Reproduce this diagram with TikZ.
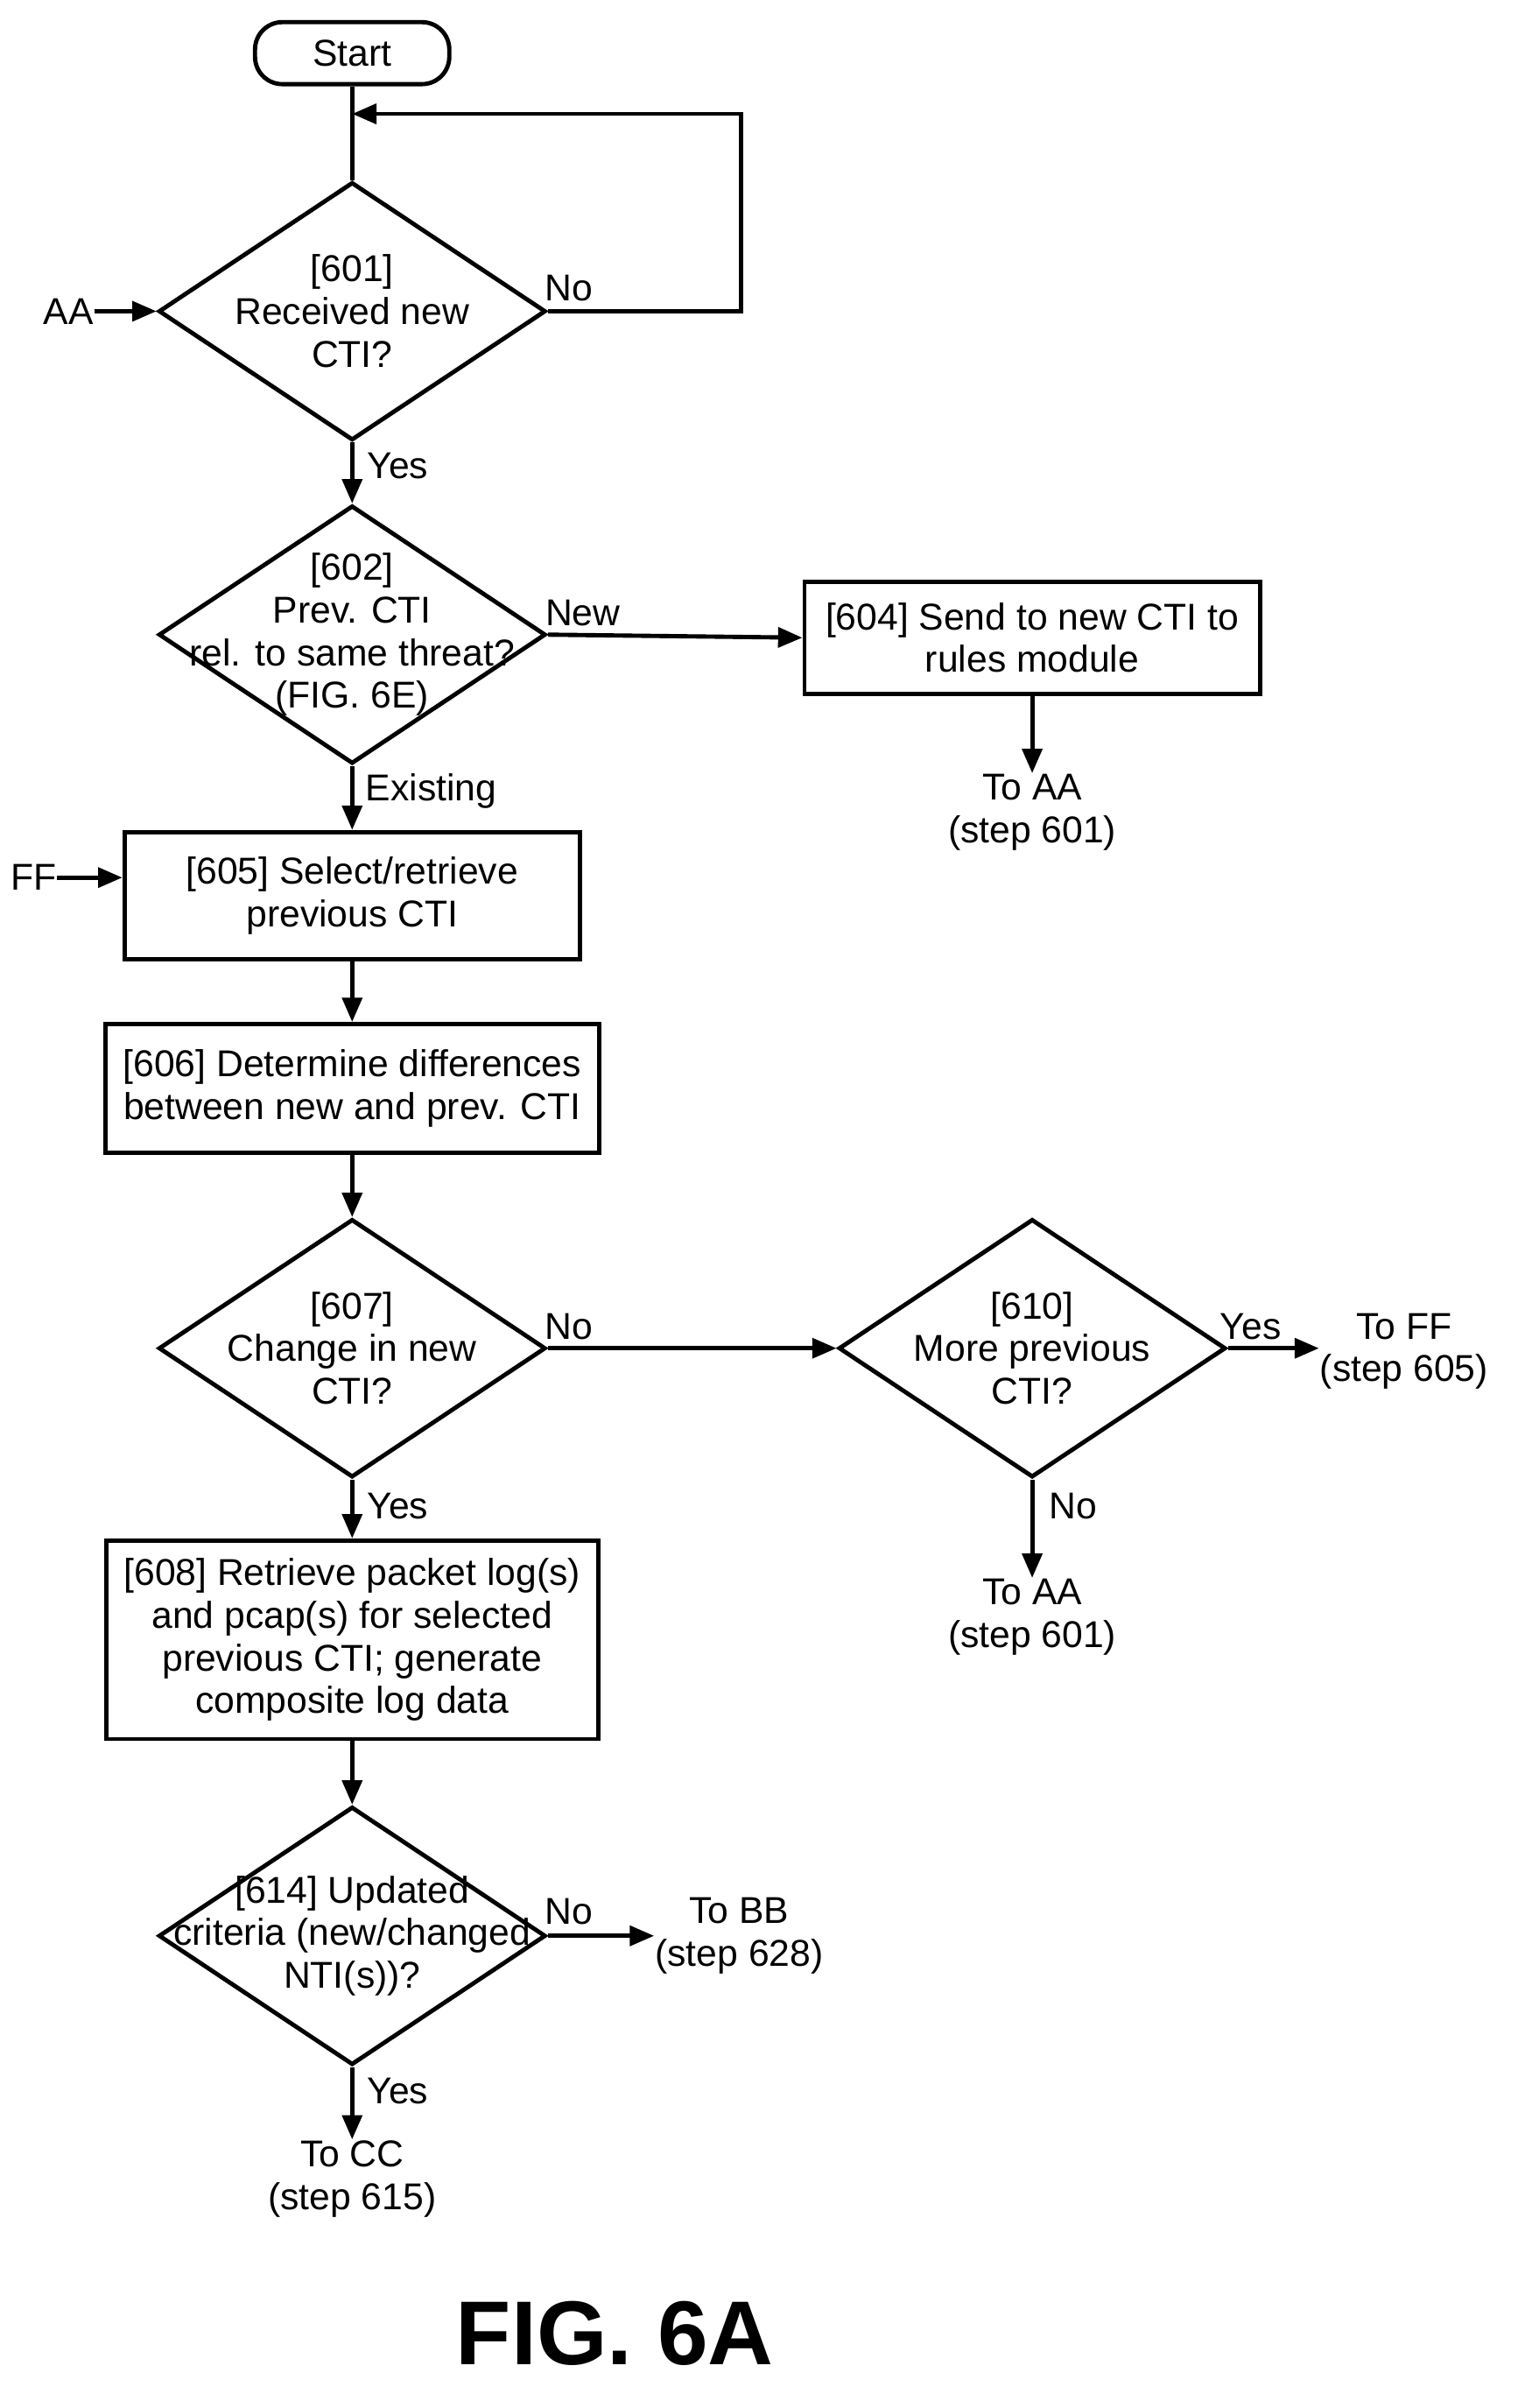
\documentclass[tikz,border=0pt]{standalone}
\usepackage{fontspec}
\setmainfont{Liberation Sans}
\usetikzlibrary{shapes.geometric,arrows.meta}
\begin{document}
\begin{tikzpicture}[x=0.1mm,y=-0.1mm,
  every node/.style={font=\fontsize{7}{8}\selectfont},
  dia/.style={draw,line width=0.8pt,diamond,minimum width=25.5mm,minimum height=17mm,inner sep=0pt},
  box/.style={draw,line width=0.8pt,minimum width=30mm,align=center},
  arr/.style={line width=0.8pt,-{Triangle[length=1.6mm,width=1.3mm]}},
  ln/.style={line width=0.8pt},
  txt/.style={align=center,inner sep=0pt}]
\useasboundingbox (0,0) rectangle (1000,1586);
\node[draw,line width=0.8pt,rounded corners=1.8mm,minimum width=12.8mm,minimum height=3.6mm] (start) at (232,35) {Start};
\node[dia] (d601) at (232,205) {};
\node[txt] at (d601) {[601]\\Received new\\CTI?};
\coordinate (loop) at (232,75);
\draw[ln] (start) -- (d601.north);
\draw[arr] (d601.east) -- (488,205) |- (loop);
\node[txt] (aa1) at (45,205) {AA};
\draw[arr] (aa1) -- (d601.west);
\node[txt] at (375,190) {No};
\node[dia] (d602) at (232,418) {};
\node[txt] at (d602) {[602]\\Prev. CTI\\rel. to same threat?\\(FIG. 6E)};
\draw[arr] (d601.south) -- (d602.north);
\node[txt] at (262,307) {Yes};
\node[box,minimum height=7.4mm] (b604) at (680,420) {[604] Send to new CTI to\\rules module};
\draw[arr] (d602.east) -- (b604.west);
\node[txt] at (384,404) {New};
\node[txt] (t604) at (680,535) {To AA\\(step 601)};
\draw[arr] (b604.south) -- (t604.north);
\node[box,minimum height=8.4mm] (b605) at (232,590) {[605] Select/retrieve\\previous CTI};
\draw[arr] (d602.south) -- (b605.north);
\node[txt] at (284,521) {Existing};
\node[txt] (ff) at (22,578) {FF};
\draw[arr] (ff) -- (b605.west|-ff);
\node[box,minimum height=8.5mm] (b606) at (232,717) {[606] Determine differences\\between new and prev. CTI};
\draw[arr] (b605) -- (b606);
\node[dia] (d607) at (232,888) {};
\node[txt] at (d607) {[607]\\Change in new\\CTI?};
\draw[arr] (b606) -- (d607.north);
\node[dia] (d610) at (680,888) {};
\node[txt] at (d610) {[610]\\More previous\\CTI?};
\draw[arr] (d607.east) -- (d610.west);
\node[txt] at (375,874) {No};
\node[txt] (tff) at (925,890) {To FF\\(step 605)};
\draw[arr] (d610.east) -- (tff.west|-d610);
\node[txt] at (824,874) {Yes};
\node[txt] (taa2) at (680,1065) {To AA\\(step 601)};
\draw[arr] (d610.south) -- (taa2.north);
\node[txt] at (707,992) {No};
\node[box,minimum height=13mm] (b608) at (232,1080) {[608] Retrieve packet log(s)\\and pcap(s) for selected\\previous CTI; generate\\composite log data};
\draw[arr] (d607.south) -- (b608.north);
\node[txt] at (262,992) {Yes};
\node[dia] (d614) at (232,1275) {};
\node[txt] at (d614) {[614] Updated\\criteria (new/changed\\NTI(s))?};
\draw[arr] (b608) -- (d614.north);
\node[txt] (tbb) at (487,1275) {To BB\\(step 628)};
\draw[arr] (d614.east) -- (tbb.west|-d614);
\node[txt] at (375,1259) {No};
\node[txt] (tcc) at (232,1435) {To CC\\(step 615)};
\draw[arr] (d614.south) -- (tcc.north);
\node[txt] at (262,1377) {Yes};
\node[txt,font=\bfseries\fontsize{17}{20}\selectfont] (fig) at (405,1537) {FIG. 6A};
\end{tikzpicture}
\end{document}
